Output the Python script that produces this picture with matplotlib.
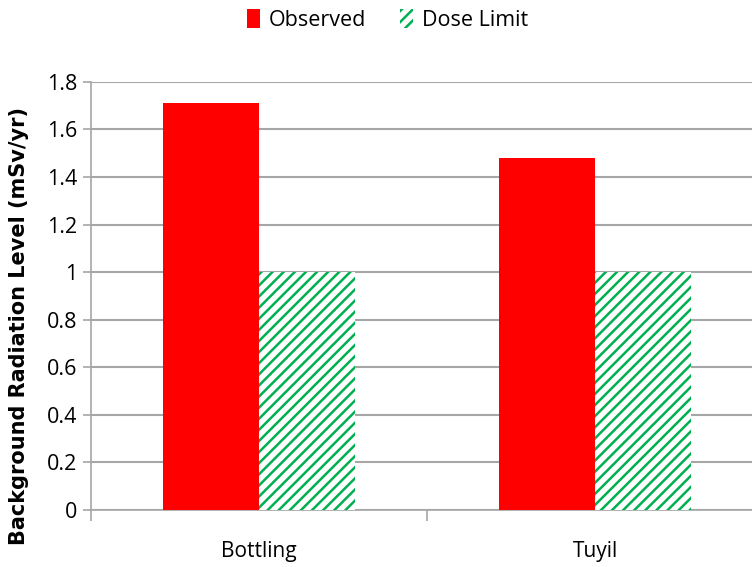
import matplotlib.pyplot as plt
import numpy as np
from matplotlib.patches import Patch

plt.rcParams['font.family'] = ['Liberation Sans Narrow', 'Open Sans', 'DejaVu Sans']
plt.rcParams['hatch.linewidth'] = 1.8

# data
sites = ["Bottling", "Tuyil"]
observed = [1.71, 1.48]
dose_limit = [1.0, 1.0]

red = '#FF0000'
green = '#00B050'
grey = '#A6A6A6'

fig = plt.figure(figsize=(7.52, 5.67), dpi=100)
ax = fig.add_axes([0.121, 0.1005, 0.894, 0.755])

x = np.arange(len(sites))
w = 0.286
ax.bar(x - w / 2, observed, w, color=red, edgecolor='none', zorder=3)
ax.bar(x + w / 2, dose_limit, w, color='white', edgecolor=green, hatch='///',
       linewidth=0, zorder=3)

ax.set_xlim(-0.5, 1.5)
ax.set_ylim(0, 1.8)
ax.set_yticks(np.arange(0, 1.81, 0.2))
ax.set_yticklabels(['0', '0.2', '0.4', '0.6', '0.8', '1', '1.2', '1.4', '1.6', '1.8'])
ax.set_xticks(x)
ax.set_xticklabels(sites)
ax.set_xticks([-0.5, 0.5, 1.5], minor=True)
ax.tick_params(axis='x', which='major', length=0, pad=22, labelsize=15)
ax.tick_params(axis='x', which='minor', length=8, color=grey, width=1.2)
ax.tick_params(axis='y', length=6, color=grey, width=1.2, labelsize=15.5, pad=4)

ax.yaxis.grid(True, color=grey, linewidth=1.5, zorder=0)
for s in ['top', 'right']:
    ax.spines[s].set_visible(False)
for s in ['left', 'bottom']:
    ax.spines[s].set_color(grey)
    ax.spines[s].set_linewidth(1.2)

ax.set_ylabel('Background Radiation Level (mSv/yr)', fontsize=15,
              fontweight='bold', family=['DejaVu Sans'])
ax.yaxis.set_label_coords(-0.092, 0.43)

handles = [Patch(facecolor=red, edgecolor='none', label='Observed'),
           Patch(facecolor='white', edgecolor=green, hatch='///', linewidth=0,
                 label='Dose Limit')]
fig.legend(handles=handles, loc='center', bbox_to_anchor=(0.515, 0.965), ncol=2,
           frameon=False, fontsize=15.5, handlelength=0.6, handleheight=1.0,
           columnspacing=1.6, handletextpad=0.4)

fig.savefig('out.png', dpi=100)
